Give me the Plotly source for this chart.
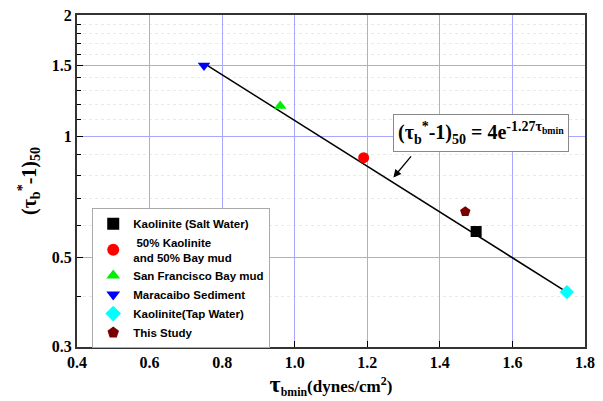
import plotly.graph_objects as go
import math

# Data
series_names = ["Kaolinite (Salt Water)", " 50% Kaolinite<br>and 50% Bay mud", "San Francisco Bay mud",
                "Maracaibo Sediment", "Kaolinite(Tap Water)", "This Study"]
series_x = [1.50, 1.19, 0.96, 0.75, 1.75, 1.47]
series_y = [0.58, 0.885, 1.19, 1.50, 0.41, 0.65]
series_symbols = ["square", "circle", "triangle-up", "triangle-down", "diamond", "pentagon"]
series_colors = ["#000000", "#ff0000", "#00ee00", "#0000ff", "#00ffff", "#7a0000"]

fit_x = [0.75, 1.75]
fit_y = [1.52, 0.41]

x_ticks = [0.4, 0.6, 0.8, 1.0, 1.2, 1.4, 1.6, 1.8]
x_ticklabels = ["0.4", "0.6", "0.8", "1.0", "1.2", "1.4", "1.6", "1.8"]
y_ticks = [0.3, 0.5, 1, 1.5, 2]
y_ticklabels = ["0.3", "0.5", "1", "1.5", "2"]
y_minor = [0.4, 0.6, 0.7, 0.8, 0.9, 1.1, 1.2, 1.3, 1.4, 1.6, 1.7, 1.8, 1.9]

fig = go.Figure()

fig.add_trace(go.Scatter(x=fit_x, y=fit_y, mode="lines", line=dict(color="black", width=1.5),
                         showlegend=False, hoverinfo="skip"))

for name, x, y, sym, col in zip(series_names, series_x, series_y, series_symbols, series_colors):
    fig.add_trace(go.Scatter(x=[x], y=[y], mode="markers", name=name,
                             marker=dict(symbol=sym, color=col, size=11, line=dict(width=0))))

serif = "Liberation Serif, Times New Roman, serif"

# page body has an 8px offset; figure sized to fill the remaining window
W, H, OFF = 595, 393, 8
L, R, T, B = 77 - OFF, 18, 15 - OFF, 54

fig.update_layout(
    width=W, height=H,
    margin=dict(l=L, r=R, t=T, b=B, autoexpand=False),
    paper_bgcolor="white", plot_bgcolor="white",
    font=dict(family=serif, color="black"),
    legend=dict(x=0.03, y=0.418, xanchor="left", yanchor="top",
                bordercolor="#aaaaaa", borderwidth=1, bgcolor="white",
                font=dict(family="Liberation Sans, Arial, sans-serif", size=11.5, color="black", weight="bold"),
                tracegroupgap=0, itemsizing="constant"),
    xaxis=dict(range=[0.4, 1.8], tickvals=x_ticks, ticktext=x_ticklabels,
               ticks="inside", ticklen=6, tickwidth=1.2, tickcolor="black", ticklabeloverflow="allow",
               showline=True, linecolor="#333333", linewidth=2, mirror=True,
               showgrid=True, gridcolor="#a8a8ff", gridwidth=1, zeroline=False,
               tickfont=dict(family=serif, size=16, weight="bold"),
               title=dict(text="<b><span style='font-size:24px'>τ</span><sub>bmin</sub>(dynes/cm<sup>2</sup>)</b>",
                          font=dict(family=serif, size=17), standoff=3)),
    yaxis=dict(type="log", range=[math.log10(0.3) - 0.0008, math.log10(2) + 0.0008],
               tickvals=y_ticks, ticktext=y_ticklabels,
               ticks="inside", ticklen=6, tickwidth=1.2, tickcolor="black", ticklabeloverflow="allow",
               showline=True, linecolor="#333333", linewidth=2, mirror=True,
               showgrid=True, gridcolor="#a8a8ff", gridwidth=1, zeroline=False,
               tickfont=dict(family=serif, size=16, weight="bold"),
               minor=dict(tickmode="array", tickvals=y_minor, ticks="inside", ticklen=4,
                          tickcolor="black", showgrid=True, gridcolor="#e2f0e2", griddash="dot"),
               title=dict(text="<b>(τ<sub>b</sub><sup>*</sup>-1)<sub>50</sub></b>",
                          font=dict(family=serif, size=20), standoff=10)),
)

# equation box
fig.add_annotation(xref="paper", yref="paper", x=(481 - 77) / 508, y=(347 - 133) / 332,
                   xanchor="center", yanchor="middle",
                   text="<b>(τ<sub>b</sub><sup>*</sup>-1)<sub>50</sub> = 4e<sup>-1.27τ<sub>bmin</sub></sup></b>",
                   showarrow=False, font=dict(family=serif, size=20, color="black"),
                   bordercolor="#888888", borderwidth=1, bgcolor="white", borderpad=4)
# arrow
fig.add_annotation(x=1.272, y=math.log10(0.79), ax=1.324, ay=math.log10(0.90),
                   xref="x", yref="y", axref="x", ayref="y", text="",
                   showarrow=True, arrowhead=2, arrowsize=1.2, arrowwidth=1.3, arrowcolor="black")

fig.write_html("out.html")
